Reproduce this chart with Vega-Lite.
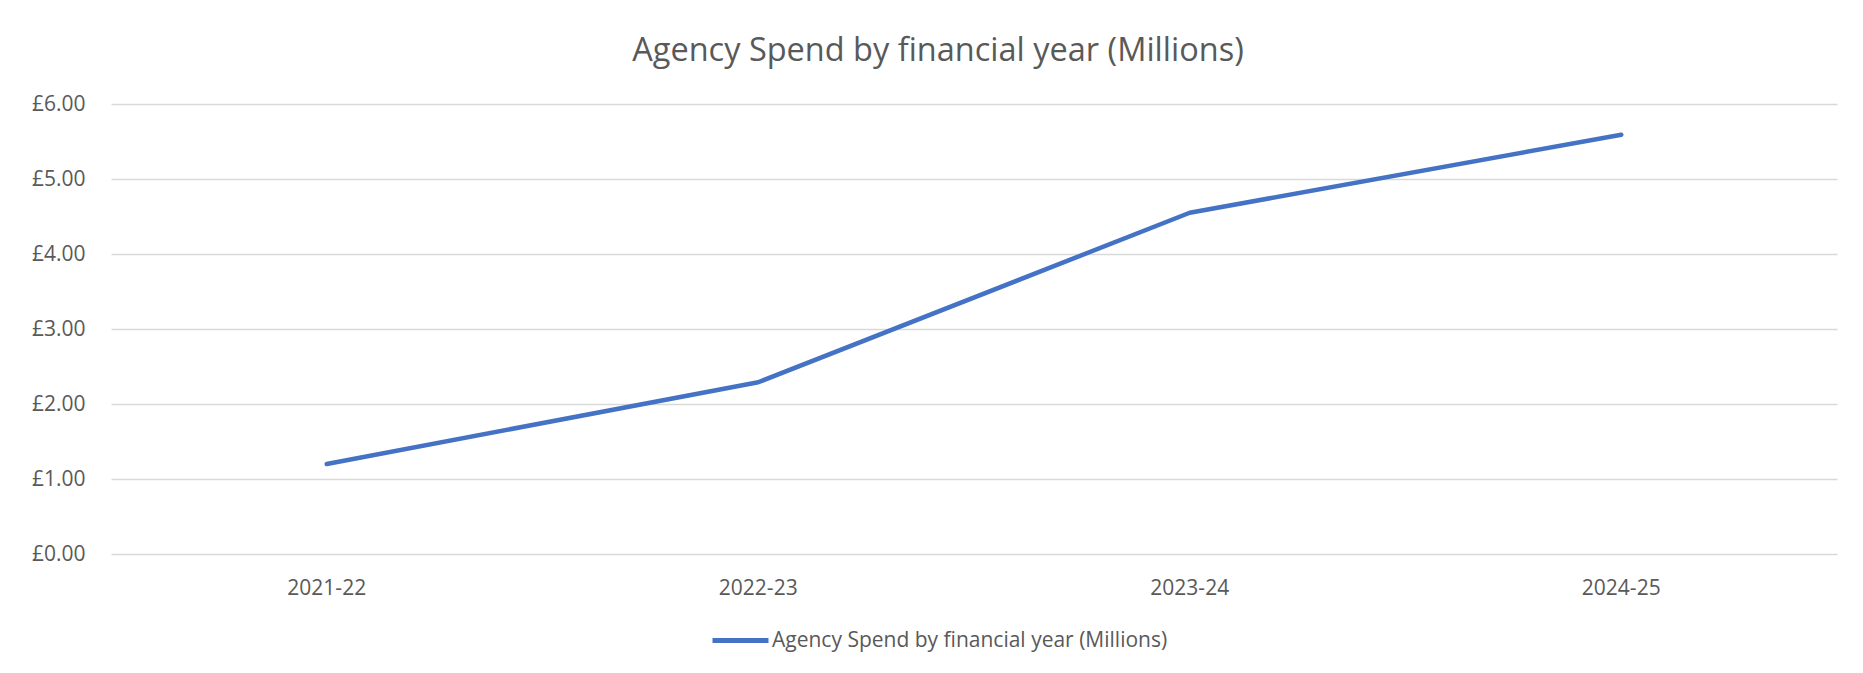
{
  "$schema": "https://vega.github.io/schema/vega-lite/v6.json",
  "autosize": "none",
  "width": 1726,
  "height": 450,
  "padding": {"left": 111, "top": 104, "right": 26, "bottom": 119},
  "background": "white",
  "title": {
    "text": "Agency Spend by financial year (Millions)",
    "anchor": "middle",
    "frame": "group",
    "dx": -36,
    "offset": 26,
    "fontSize": 32.5,
    "font": "Open Sans",
    "fontWeight": "normal",
    "color": "#595959"
  },
  "data": {
    "values": [
      {"year": "2021-22", "spend": 1.20},
      {"year": "2022-23", "spend": 2.29},
      {"year": "2023-24", "spend": 4.55},
      {"year": "2024-25", "spend": 5.59}
    ]
  },
  "mark": {"type": "line", "strokeWidth": 4.5, "strokeCap": "round", "strokeJoin": "round"},
  "encoding": {
    "x": {
      "field": "year",
      "type": "ordinal",
      "scale": {"type": "band", "paddingInner": 0, "paddingOuter": 0},
      "axis": {
        "title": null,
        "labelAngle": 0,
        "ticks": false,
        "domain": false,
        "grid": false,
        "labelPadding": 23,
        "labelFontSize": 21,
        "labelFont": "Open Sans",
        "labelColor": "#595959"
      }
    },
    "y": {
      "field": "spend",
      "type": "quantitative",
      "scale": {"domain": [0, 6], "nice": false},
      "axis": {
        "title": null,
        "values": [0, 1, 2, 3, 4, 5, 6],
        "labelExpr": "'£' + format(datum.value, '.2f')",
        "ticks": false,
        "domain": false,
        "grid": true,
        "gridColor": "#D9D9D9",
        "gridWidth": 1.5,
        "labelPadding": 26,
        "labelFontSize": 21,
        "labelFont": "Open Sans",
        "labelColor": "#595959"
      }
    },
    "color": {
      "datum": "Agency Spend by financial year (Millions)",
      "type": "nominal",
      "scale": {"range": ["#4472C4"]},
      "legend": {
        "title": null,
        "orient": "none",
        "legendX": 599,
        "legendY": 506,
        "symbolType": "stroke",
        "symbolSize": 3136,
        "symbolStrokeWidth": 5,
        "labelFontSize": 21,
        "labelFont": "Open Sans",
        "labelColor": "#595959",
        "labelOffset": 1,
        "labelLimit": 0
      }
    }
  },
  "config": {
    "view": {"stroke": null}
  }
}
